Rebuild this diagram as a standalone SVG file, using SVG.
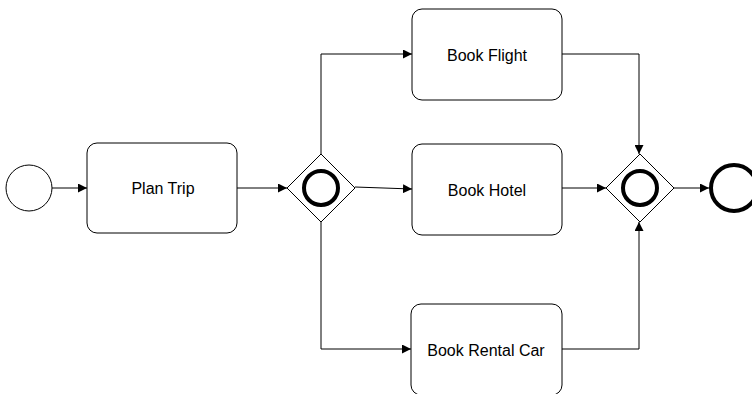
<svg xmlns="http://www.w3.org/2000/svg" width="752" height="394" viewBox="0 0 752 394">
<style>
.task{fill:#fff;stroke:#000;stroke-width:1}
.lbl{font-family:"Liberation Sans",Arial,sans-serif;font-size:16px;fill:#000;text-anchor:middle;dominant-baseline:central}
.edge{fill:none;stroke:#000;stroke-width:1}
.gw{fill:#fff;stroke:#000;stroke-width:1}
.thick{fill:none;stroke:#000;stroke-width:4}
</style>
<defs>
<marker id="arr" viewBox="0 0 10 10" refX="10" refY="5" markerWidth="9" markerHeight="9" markerUnits="userSpaceOnUse" orient="auto">
<path d="M0,0 L10,5 L0,10 z" fill="#000"/>
</marker>
</defs>
<rect width="752" height="394" fill="#fff"/>
<g id="connectors">
<path class="edge" d="M52,188 L87,188" marker-end="url(#arr)"/>
<path class="edge" d="M237,188 L287,188" marker-end="url(#arr)"/>
<path class="edge" d="M355,187 L412,189" marker-end="url(#arr)"/>
<path class="edge" d="M321,154 L321,54 L412,54" marker-end="url(#arr)"/>
<path class="edge" d="M321,222 L321,349 L411,349" marker-end="url(#arr)"/>
<path class="edge" d="M562,54 L639,54 L639,154" marker-end="url(#arr)"/>
<path class="edge" d="M562,188 L606,188" marker-end="url(#arr)"/>
<path class="edge" d="M562,349 L639,349 L639,222" marker-end="url(#arr)"/>
<path class="edge" d="M674,188 L709,188" marker-end="url(#arr)"/>
</g>
<g id="start"><circle cx="29" cy="188" r="23" fill="#fff" stroke="#000" stroke-width="1"/></g>
<g id="plan"><rect class="task" x="87" y="143" width="150" height="90" rx="10"/><text class="lbl" x="163" y="188">Plan Trip</text></g>
<g id="split"><path class="gw" d="M321,154 L355,188 L321,222 L287,188 z"/><circle class="thick" cx="321" cy="188" r="17"/></g>
<g id="flight"><rect class="task" x="412" y="9" width="150" height="91" rx="10"/><text class="lbl" x="487" y="55">Book Flight</text></g>
<g id="hotel"><rect class="task" x="412" y="144" width="150" height="91" rx="10"/><text class="lbl" x="487" y="190">Book Hotel</text></g>
<g id="car"><rect class="task" x="411" y="304" width="151" height="91" rx="10"/><text class="lbl" x="486" y="350">Book Rental Car</text></g>
<g id="join"><path class="gw" d="M640,154 L674,188 L640,222 L606,188 z"/><circle class="thick" cx="640" cy="188" r="17"/></g>
<g id="end"><circle class="thick" cx="734" cy="188" r="23" fill="#fff"/></g>
</svg>
